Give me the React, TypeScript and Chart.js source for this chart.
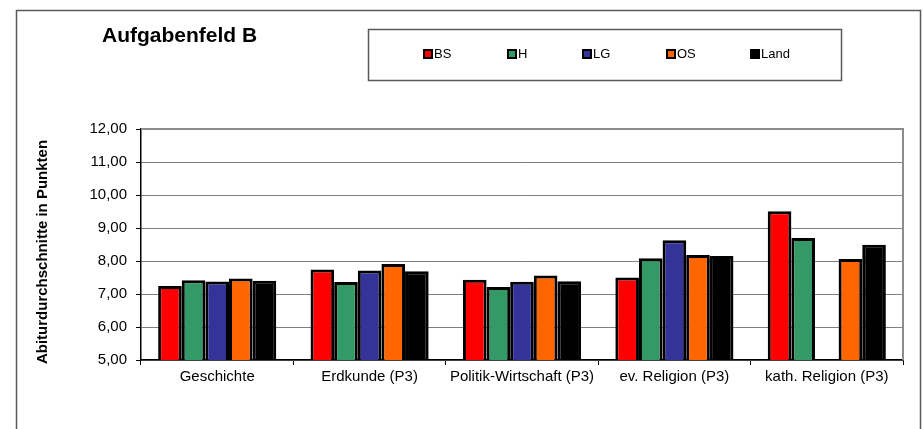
import React, { useEffect, useRef } from "react";
import { Chart, registerables } from "chart.js";

Chart.register(...registerables);

const categories = [
  "Geschichte",
  "Erdkunde (P3)",
  "Politik-Wirtschaft (P3)",
  "ev. Religion (P3)",
  "kath. Religion (P3)",
];

const seriesNames = ["BS", "H", "LG", "OS", "Land"];
const seriesColors = ["#FF0000", "#339966", "#333399", "#FF6600", "#000000"];

const BS = [7.24, 7.74, 7.43, 7.5, 9.51];
const H = [7.42, 7.36, 7.21, 8.08, 8.7];
const LG = [7.38, 7.71, 7.37, 8.63, null];
const OS = [7.47, 7.91, 7.56, 8.18, 8.06];
const Land = [7.4, 7.69, 7.39, 8.15, 8.49];

const seriesValues = [BS, H, LG, OS, Land];

const yTicks = [5, 6, 7, 8, 9, 10, 11, 12];

const chartTitle = "Aufgabenfeld B";
const yTitle = "Abiturdurchschnitte in Punkten";

const FONT = "'Liberation Sans', Arial, sans-serif";

const decorPlugin = {
  id: "decor",
  afterDraw(chart: any) {
    const ctx = chart.ctx as CanvasRenderingContext2D;
    const area = chart.chartArea;
    ctx.save();
    // outer frame
    ctx.strokeStyle = "#5a5a5a";
    ctx.lineWidth = 1.5;
    ctx.strokeRect(16.5, 10.5, 904, 440);

    // plot frame top/right
    ctx.strokeStyle = "#8c8c8c";
    ctx.lineWidth = 2;
    ctx.beginPath();
    ctx.moveTo(area.left, area.top);
    ctx.lineTo(area.right, area.top);
    ctx.lineTo(area.right, area.bottom);
    ctx.stroke();

    // title
    ctx.fillStyle = "#000";
    ctx.font = `bold 21px ${FONT}`;
    ctx.textBaseline = "middle";
    ctx.textAlign = "left";
    ctx.fillText(chartTitle, 102, 36);

    // legend box
    ctx.strokeStyle = "#5a5a5a";
    ctx.lineWidth = 1.5;
    ctx.strokeRect(368.5, 29.5, 473, 51);
    const xs = [423, 507, 582, 666, 750];
    ctx.font = `13px ${FONT}`;
    chart.data.datasets.forEach((ds: any, i: number) => {
      const x = xs[i];
      const y = 54;
      ctx.fillStyle = "#000";
      ctx.fillRect(x, y - 5, 10, 10);
      ctx.fillStyle = ds.backgroundColor;
      ctx.fillRect(x + 2, y - 3, 6, 6);
      ctx.fillStyle = "#000";
      ctx.fillText(ds.label, x + 11, y + 0.5);
    });

    // y title
    ctx.save();
    ctx.translate(43, 252);
    ctx.rotate(-Math.PI / 2);
    ctx.textAlign = "center";
    ctx.font = `bold 15px ${FONT}`;
    ctx.fillStyle = "#000";
    ctx.fillText(yTitle, 0, 0);
    ctx.restore();

    ctx.restore();
  },
};

export default function App() {
  const ref = useRef<HTMLCanvasElement | null>(null);

  useEffect(() => {
    if (!ref.current) return;
    const chart = new Chart(ref.current, {
      type: "bar",
      data: {
        labels: categories,
        datasets: seriesNames.map((name, i) => ({
          label: name,
          data: seriesValues[i],
          backgroundColor: seriesColors[i],
          borderColor: "#000000",
          borderWidth: 3,
          borderSkipped: false,
          categoryPercentage: 0.775,
          barPercentage: 1.0,
        })),
      },
      options: {
        animation: false,
        responsive: false,
        maintainAspectRatio: false,
        layout: { padding: { top: 129, right: 20, bottom: 0, left: 0 } },
        plugins: {
          legend: { display: false },
          title: { display: false },
          tooltip: { enabled: false },
        },
        scales: {
          x: {
            offset: true,
            grid: {
              offset: true,
              drawOnChartArea: false,
              drawTicks: true,
              tickLength: 5,
              tickColor: "#000",
            },
            border: { color: "#000", width: 1.5 },
            ticks: {
              color: "#000",
              font: { family: FONT, size: 15 },
              padding: 3,
              maxRotation: 0,
              autoSkip: false,
            },
            afterFit: (s: any) => {
              s.height = 69;
            },
          },
          y: {
            min: 5,
            max: 12,
            afterBuildTicks: (s: any) => {
              s.ticks = yTicks.map((v) => ({ value: v }));
            },
            grid: {
              color: "#808080",
              lineWidth: 1,
              drawTicks: true,
              tickLength: 5,
              tickColor: "#000",
            },
            border: { color: "#000", width: 1.5 },
            ticks: {
              color: "#000",
              font: { family: FONT, size: 15 },
              padding: 9,
              callback: (v: any) => Number(v).toFixed(2).replace(".", ","),
            },
            afterFit: (s: any) => {
              s.width = 141;
            },
          },
        },
      },
      plugins: [decorPlugin],
    });
    return () => chart.destroy();
  }, []);

  return (
    <div style={{ position: "fixed", left: 0, top: 0, width: 923, height: 429, background: "#fff" }}>
      <canvas ref={ref} width={923} height={429} style={{ display: "block", width: 923, height: 429 }} />
    </div>
  );
}
